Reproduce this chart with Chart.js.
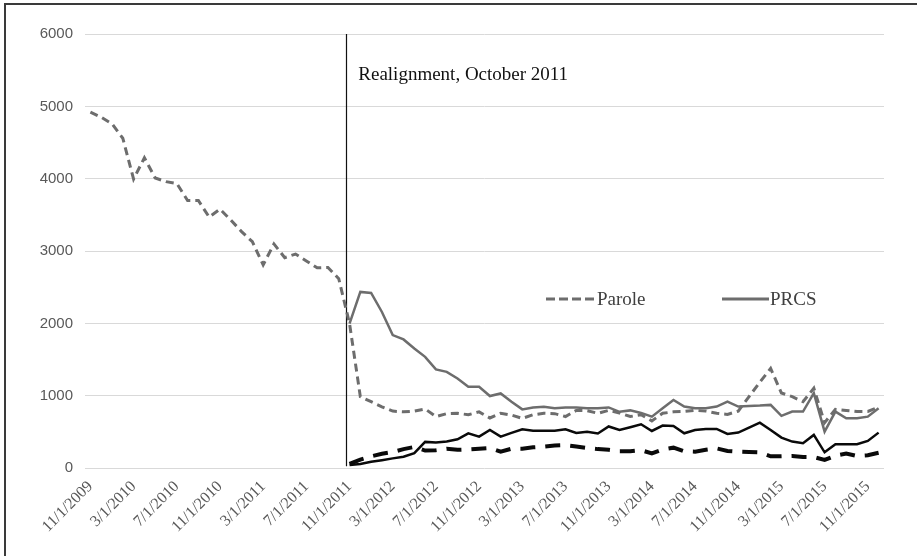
<!DOCTYPE html>
<html><head><meta charset="utf-8">
<script src="https://cdn.jsdelivr.net/npm/chart.js@4.4.1/dist/chart.umd.min.js"></script>
<style>
html,body{margin:0;padding:0;background:#fff;overflow:hidden;}
#wrap{position:relative;width:917px;height:556px;overflow:hidden;}
#frame{position:absolute;left:4px;top:3px;width:1000px;height:1000px;border-left:2px solid #3a3a3a;border-top:2px solid #3a3a3a;pointer-events:none;}
canvas{position:absolute;left:0;top:0;}
</style></head><body>
<div id="wrap"><canvas id="c" width="917" height="556"></canvas><div id="frame"></div></div>
<script>
const months = [
 '11/1/2009','12/1/2009',
 '1/1/2010','2/1/2010','3/1/2010','4/1/2010','5/1/2010','6/1/2010','7/1/2010','8/1/2010','9/1/2010','10/1/2010','11/1/2010','12/1/2010',
 '1/1/2011','2/1/2011','3/1/2011','4/1/2011','5/1/2011','6/1/2011','7/1/2011','8/1/2011','9/1/2011','10/1/2011','11/1/2011','12/1/2011',
 '1/1/2012','2/1/2012','3/1/2012','4/1/2012','5/1/2012','6/1/2012','7/1/2012','8/1/2012','9/1/2012','10/1/2012','11/1/2012','12/1/2012',
 '1/1/2013','2/1/2013','3/1/2013','4/1/2013','5/1/2013','6/1/2013','7/1/2013','8/1/2013','9/1/2013','10/1/2013','11/1/2013','12/1/2013',
 '1/1/2014','2/1/2014','3/1/2014','4/1/2014','5/1/2014','6/1/2014','7/1/2014','8/1/2014','9/1/2014','10/1/2014','11/1/2014','12/1/2014',
 '1/1/2015','2/1/2015','3/1/2015','4/1/2015','5/1/2015','6/1/2015','7/1/2015','8/1/2015','9/1/2015','10/1/2015','11/1/2015','12/1/2015'
];

const parole = [
 4920,4850,4760,4560,3995,4290,4010,3960,3935,3700,3700,3470,3580,3430,3270,3130,2810,3100,2910,2960,2865,2770,2775,2620,
 2000,990,920,850,790,780,790,820,715,755,760,740,780,695,760,735,690,740,760,755,715,800,795,760,800,765,
 715,740,655,760,780,785,800,790,760,745,790,990,1190,1380,1040,990,920,1106,630,815,800,785,785,845
];

const prcs = [
 null,null,null,null,null,null,null,null,null,null,null,null,null,null,null,null,null,null,null,null,null,null,null,null,
 2000,2437,2423,2160,1840,1780,1655,1540,1366,1333,1241,1126,1126,998,1034,920,814,841,850,830,841,841,830,830,841,780,
 800,765,714,829,945,853,829,829,853,922,853,862,866,876,724,783,783,1037,507,783,691,691,714,829
];

const blackSolid = [
 null,null,null,null,null,null,null,null,null,null,null,null,null,null,null,null,null,null,null,null,null,null,null,null,
 45,60,90,112,137,160,210,365,355,370,400,483,437,529,437,490,540,520,520,520,540,487,506,480,578,530,
 568,608,516,590,585,484,530,544,544,475,493,562,631,530,424,369,346,461,221,332,332,332,378,493
];

const blackDashed = [
 null,null,null,null,null,null,null,null,null,null,null,null,null,null,null,null,null,null,null,null,null,null,null,null,
 60,120,165,200,225,265,295,245,250,270,255,260,270,280,230,270,270,290,300,315,320,300,280,265,255,235,
 235,250,205,260,285,235,230,255,275,240,230,225,220,165,165,170,155,155,115,175,205,170,180,215
];

const yTicks = [0,1000,2000,3000,4000,5000,6000];
const legendLabels = ['Parole','PRCS'];
const annotationText = 'Realignment, October 2011';

const GRAY = '#6d6d6d';
const BLACK = '#0a0a0a';
const SERIF = '"Liberation Serif","Times New Roman",serif';

const overlay = {
  id: 'overlay',
  beforeDatasetsDraw(chart) {
    const {ctx, scales: {x, y}} = chart;
    const px = Math.round(x.getPixelForValue(23.7)) + 0.5;
    ctx.save();
    ctx.strokeStyle = '#111';
    ctx.lineWidth = 1.2;
    ctx.beginPath();
    ctx.moveTo(px, y.getPixelForValue(yTicks[yTicks.length - 1]));
    ctx.lineTo(px, y.getPixelForValue(0) - 2);
    ctx.stroke();
    ctx.restore();
  },
  afterDatasetsDraw(chart) {
    const {ctx, scales: {x}, chartArea} = chart;
    const px = x.getPixelForValue(23.7);
    ctx.save();
    ctx.fillStyle = '#111';
    ctx.font = '19px ' + SERIF;
    ctx.textBaseline = 'alphabetic';
    ctx.textAlign = 'left';
    ctx.fillText(annotationText, px + 12, chartArea.top + 46);

    // legend
    const ly = chartArea.top + 265;
    ctx.lineWidth = 3;
    ctx.strokeStyle = GRAY;
    ctx.setLineDash([9, 4]);
    ctx.beginPath(); ctx.moveTo(546, ly); ctx.lineTo(596, ly); ctx.stroke();
    ctx.setLineDash([]);
    ctx.beginPath(); ctx.moveTo(722, ly); ctx.lineTo(769, ly); ctx.stroke();
    ctx.fillStyle = '#404040';
    ctx.font = '19px ' + SERIF;
    ctx.textBaseline = 'middle';
    ctx.fillText(legendLabels[0], 597, ly + 1);
    ctx.fillText(legendLabels[1], 770, ly + 1);
    ctx.restore();
  }
};

new Chart(document.getElementById('c'), {
  type: 'line',
  data: {
    labels: months,
    datasets: [
      {label: 'Parole', data: parole, borderColor: GRAY, borderWidth: 3, borderDash: [8, 5], fill: false},
      {label: 'PRCS', data: prcs, borderColor: GRAY, borderWidth: 2.5, fill: false},
      {label: 'Series 3', data: blackSolid, borderColor: BLACK, borderWidth: 2.5, fill: false},
      {label: 'Series 4', data: blackDashed, borderColor: BLACK, borderWidth: 4, borderDash: [15, 10], fill: false}
    ]
  },
  options: {
    responsive: false,
    animation: false,
    devicePixelRatio: 1,
    layout: {padding: {top: 34, right: 33, left: 0, bottom: 0}},
    plugins: {legend: {display: false}, tooltip: {enabled: false}},
    elements: {point: {radius: 0}, line: {tension: 0, borderCapStyle: 'butt', borderJoinStyle: 'miter'}},
    scales: {
      x: {
        type: 'category',
        offset: true,
        grid: {display: false},
        border: {display: false},
        ticks: {
          autoSkip: false, minRotation: 45, maxRotation: 45, padding: 1,
          color: '#595959',
          font: {family: SERIF, size: 16},
          callback: (v, i) => (i % 4 === 0 ? months[i] : '')
        },
        afterFit: (s) => { s.height = 87.7; }
      },
      y: {
        min: 0, max: 6000,
        afterBuildTicks: (s) => { s.ticks = yTicks.map(v => ({value: v})); },
        ticks: {color: '#595959', padding: 12, font: {family: '"Liberation Sans",Arial,sans-serif', size: 15},
          callback: (v) => String(v)},
        grid: {color: '#d9d9d9', lineWidth: 1, drawTicks: false},
        border: {display: false},
        afterFit: (s) => { s.width = 85; }
      }
    }
  },
  plugins: [overlay]
});
</script>
</body></html>
